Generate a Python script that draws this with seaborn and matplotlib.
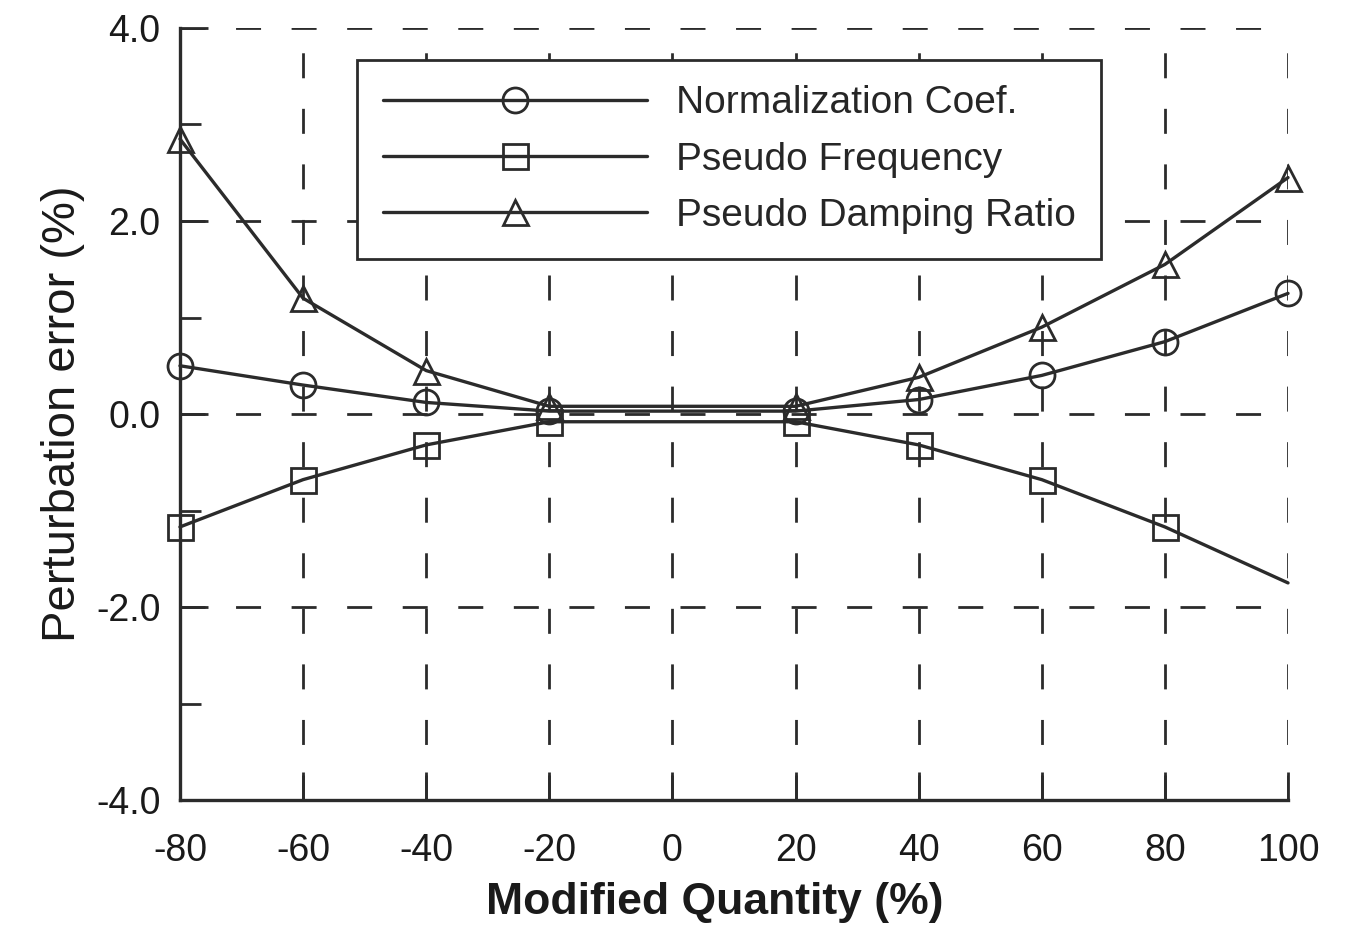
import matplotlib
matplotlib.use("Agg")
import matplotlib.pyplot as plt
import seaborn as sns
import pandas as pd
import numpy as np
from matplotlib.ticker import MultipleLocator, FormatStrFormatter

sns.set_style("white")
plt.rcParams['font.family'] = ['Liberation Sans', 'DejaVu Sans']
plt.rcParams['axes.unicode_minus'] = False

modified = [-80, -60, -40, -20, 20, 40, 60, 80, 100]
norm_coef = [0.50, 0.30, 0.12, 0.03, 0.03, 0.15, 0.40, 0.75, 1.25]
pseudo_freq = [-1.17, -0.68, -0.32, -0.08, -0.08, -0.32, -0.68, -1.17, -1.75]
pseudo_damp = [2.85, 1.20, 0.45, 0.08, 0.08, 0.38, 0.90, 1.55, 2.45]

series_names = ["Normalization Coef.", "Pseudo Frequency", "Pseudo Damping Ratio"]
series_vals = [norm_coef, pseudo_freq, pseudo_damp]
markers = ["o", "s", "^"]

fig = plt.figure(figsize=(13.48, 9.33), dpi=100)
ax = fig.add_axes([0.1335, 0.1425, 0.822, 0.8275])

col = "#2b2b2b"
for name, vals, m in zip(series_names, series_vals, markers):
    df = pd.DataFrame({"x": modified, "y": vals})
    sns.lineplot(data=df, x="x", y="y", ax=ax, color=col, linewidth=2.4,
                 marker=m, markersize=18, markerfacecolor="none",
                 markeredgecolor=col, markeredgewidth=2.0, label=name,
                 markevery=list(range(8)) if m == "s" else None, clip_on=False, zorder=3)

ax.set_xlim(-80, 100)
ax.set_ylim(-4, 4)
ax.xaxis.set_major_locator(MultipleLocator(20))
ax.yaxis.set_major_locator(MultipleLocator(2))
ax.yaxis.set_minor_locator(MultipleLocator(1))
ax.yaxis.set_major_formatter(FormatStrFormatter("%.1f"))

for s in ["top", "right"]:
    ax.spines[s].set_visible(False)
for s in ["left", "bottom"]:
    ax.spines[s].set_linewidth(2.4)
    ax.spines[s].set_color(col)

ax.grid(True, which="major", color=col, linestyle=(0, (9, 11)), linewidth=2.0)
ax.tick_params(axis="both", which="major", direction="in", length=20, width=2, colors=col,
               labelsize=27, labelcolor="#1a1a1a", left=True, bottom=True)
ax.tick_params(axis="y", which="minor", direction="in", length=15, width=2, colors=col, left=True)
ax.tick_params(axis="x", which="major", pad=24)
ax.tick_params(axis="y", which="major", pad=14)

ax.set_xlabel("Modified Quantity (%)", fontsize=32, fontweight="bold", color="#1a1a1a")
ax.xaxis.set_label_coords(0.483, -0.106, transform=ax.transAxes)
ax.xaxis.label.set_va("top")
ax.set_ylabel("Perturbation error (%)", fontsize=34, color="#1a1a1a", labelpad=8)

leg = ax.legend(loc="upper left", bbox_to_anchor=(0.16, 0.9585), borderaxespad=0,
                fontsize=28, frameon=True, fancybox=False, edgecolor=col,
                handlelength=6.8, handletextpad=0.75, labelspacing=0.52,
                borderpad=0.65, framealpha=1)
leg.get_frame().set_linewidth(2)

fig.savefig("out.png", dpi=100)
